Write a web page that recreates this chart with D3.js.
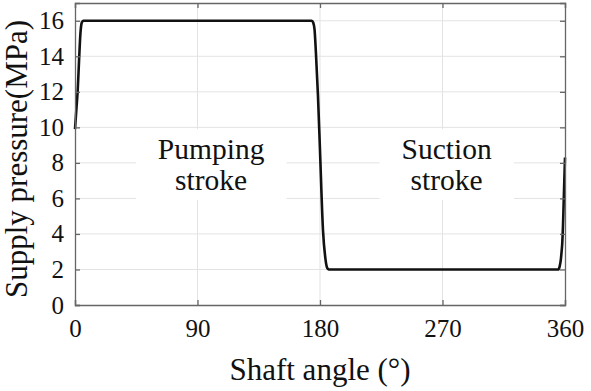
<!DOCTYPE html>
<html>
<head>
<meta charset="utf-8">
<script src="https://cdn.jsdelivr.net/npm/d3@7"></script>
<style>
  body { margin: 0; background: #fff; }
  text { font-family: "Liberation Serif", "Times New Roman", serif; fill: #111; }
</style>
</head>
<body>
<div id="graph"></div>
<script>
// shaft angle (deg) and supply pressure (MPa)
const angle = [0, 1, 2, 3, 4, 5, 6, 8, 170, 174, 175, 176, 177, 178.5, 180, 182.2, 184, 185, 186, 187, 190,
               350, 355, 356, 357, 357.5, 358, 358.5, 359, 359.5, 360]
const pressure = [9.9, 11.0, 12.1, 13.8, 15.3, 15.9, 16, 16, 16, 16, 15.9, 15.5, 14.2, 11.8, 8.7, 4.2, 2.6, 2.15, 2.02, 2, 2,
                  2, 2, 2.15, 2.6, 3.0, 3.5, 4.4, 5.7, 7.0, 8.3]

const xTicks = [0, 90, 180, 270, 360]
const yTicks = [0, 2, 4, 6, 8, 10, 12, 14, 16]

const labels = [
    { a: 100, lines: ["Pumping", "stroke"] },
    { a: 273, lines: ["Suction", "stroke"] }
]

const serif = "'Liberation Serif', 'Times New Roman', serif"
const width = 591, height = 391
const margin = { top: 3, right: 26, bottom: 86, left: 75 },
    w = width - margin.left - margin.right,
    h = height - margin.top - margin.bottom

const svg = d3.select("#graph")
    .append("svg")
    .attr("width", width)
    .attr("height", height)

const g = svg.append("g")
    .attr("transform", `translate(${margin.left},${margin.top})`)

const x = d3.scaleLinear().domain([0, 360]).range([0, w])
const y = d3.scaleLinear().domain([0, 17]).range([h, 0])

// grid
g.append("g").selectAll("line")
    .data(xTicks.slice(1, -1))
    .join("line")
    .attr("x1", d => x(d)).attr("x2", d => x(d))
    .attr("y1", 0).attr("y2", h)
    .attr("stroke", "#e3e3e3").attr("stroke-width", 1)

g.append("g").selectAll("line")
    .data(yTicks.slice(1))
    .join("line")
    .attr("x1", 0).attr("x2", w)
    .attr("y1", d => y(d)).attr("y2", d => y(d))
    .attr("stroke", "#e3e3e3").attr("stroke-width", 1)

// text boxes (white background hides the grid)
const notes = g.append("g")
labels.forEach(l => {
    const grp = notes.append("g")
    const rect = grp.append("rect").attr("fill", "#fff")
    const t = grp.append("text")
        .attr("text-anchor", "middle")
        .attr("font-family", serif)
        .style("font-size", "29.5px")
    l.lines.forEach((s, i) => {
        t.append("tspan")
            .attr("x", x(l.a))
            .attr("y", 156 + i * 31)
            .text(s)
    })
    const bb = t.node().getBBox()
    rect.attr("x", bb.x - 22).attr("y", bb.y - 4)
        .attr("width", bb.width + 44).attr("height", bb.height + 8)
})

// curve
const line = d3.line()
    .x((d, i) => x(angle[i]))
    .y(d => y(d))
    .curve(d3.curveMonotoneX)

g.append("path")
    .datum(pressure)
    .attr("fill", "none")
    .attr("stroke", "#111")
    .attr("stroke-width", 2.6)
    .attr("d", line)

// axes with inward ticks, mirrored on top/right
const axisColor = "#666"
const xAxis = g.append("g").attr("transform", `translate(0,${h})`)
    .call(d3.axisBottom(x).tickValues(xTicks).tickSize(-5).tickPadding(14))
const yAxis = g.append("g")
    .call(d3.axisLeft(y).tickValues(yTicks).tickSize(-5).tickPadding(11))
g.append("g")
    .call(d3.axisTop(x).tickValues(xTicks).tickSize(-5).tickFormat(""))
g.append("g").attr("transform", `translate(${w},0)`)
    .call(d3.axisRight(y).tickValues(yTicks).tickSize(-5).tickFormat(""))

xAxis.attr("font-family", serif).attr("font-size", 25)
yAxis.attr("font-family", serif).attr("font-size", 25)
g.selectAll(".domain").attr("stroke", axisColor).attr("stroke-width", 1.3)
g.selectAll(".tick line").attr("stroke", axisColor).attr("stroke-width", 1.3)
g.selectAll(".tick text").attr("fill", "#111")
xAxis.selectAll(".tick text").attr("dy", "0.71em")

// axis titles
svg.append("text")
    .attr("x", margin.left + w / 2)
    .attr("y", 380)
    .attr("text-anchor", "middle")
    .attr("font-family", serif)
    .style("font-size", "31px")
    .text("Shaft angle (°)")

svg.append("text")
    .attr("transform", `translate(27,159) rotate(-90)`)
    .attr("text-anchor", "middle")
    .attr("font-family", serif)
    .style("font-size", "31px")
    .text("Supply pressure(MPa)")
</script>
</body>
</html>
